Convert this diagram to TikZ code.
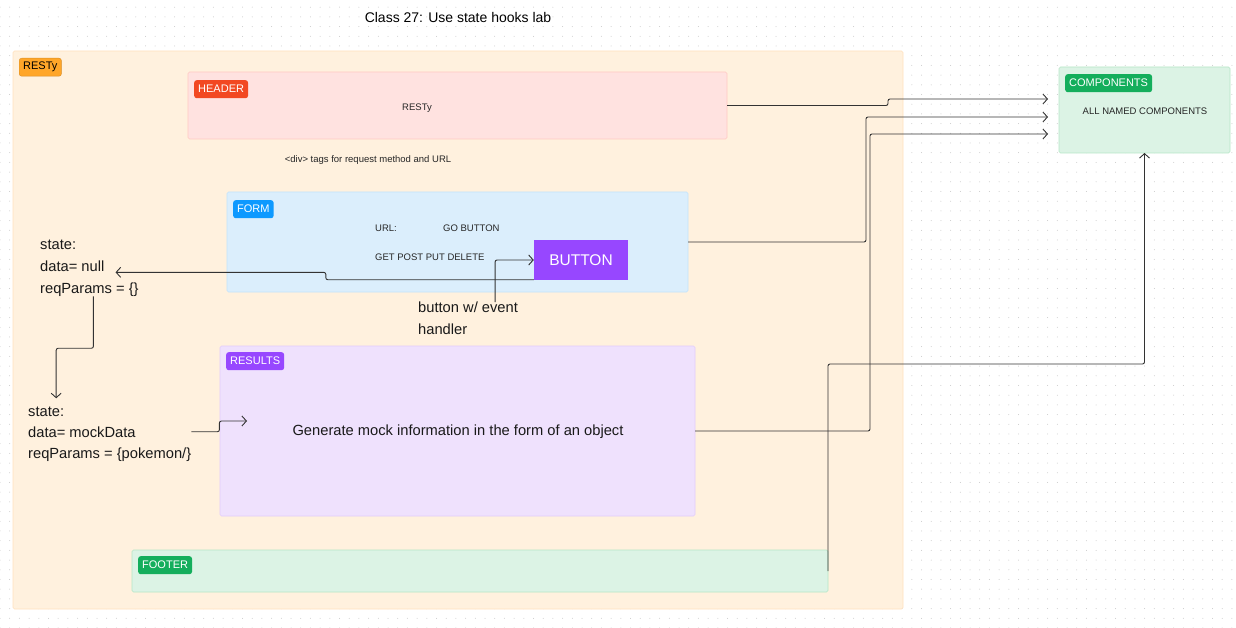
\documentclass[tikz,border=0pt]{standalone}
\usepackage{fontspec}
\setmainfont{Liberation Sans}
\usetikzlibrary{
	positioning,
	arrows.meta,
	patterns.meta
}

\definecolor{restyfill}{HTML}{FFF1DE}
\definecolor{restytag}{HTML}{FFA629}
\definecolor{headfill}{HTML}{FFE2E0}
\definecolor{headline}{HTML}{FFC9C2}
\definecolor{headtag}{HTML}{F24822}
\definecolor{formfill}{HTML}{DBEEFC}
\definecolor{formline}{HTML}{C2E3FB}
\definecolor{formtag}{HTML}{0D99FF}
\definecolor{resfill}{HTML}{EFE1FD}
\definecolor{resline}{HTML}{E2CCFB}
\definecolor{restag}{HTML}{9747FF}
\definecolor{footfill}{HTML}{DCF3E5}
\definecolor{footline}{HTML}{B5E6C6}
\definecolor{foottag}{HTML}{14AE5C}
\definecolor{wirecol}{HTML}{333333}

\begin{document}
\begin{tikzpicture}[
		x=1pt, y=-1pt,
		box/.style={rectangle, rounded corners=1.5pt, anchor=north west,
			inner sep=0pt, outer sep=0pt, line width=0.6pt},
		tag/.style={rectangle, rounded corners=2.5pt, anchor=north west,
			inner xsep=4pt, inner ysep=0pt, minimum height=18pt,
			text=white, font=\fontsize{11}{12}\selectfont},
		small/.style={inner sep=0pt, text=black!85, font=\fontsize{9.5}{11}\selectfont},
		big/.style={inner sep=0pt, text=black!90, font=\fontsize{14.7}{21.5}\selectfont},
		wire/.style={draw=wirecol, line width=0.9pt, rounded corners=2pt,
			-{Straight Barb[length=4.5pt,width=10pt]}}
	]
	\useasboundingbox (0,0) rectangle (1236,628);
	\fill[pattern={Dots[distance=9.7pt,radius=0.5pt]}, pattern color=black!22]
		(0,0) rectangle (1236,628);

	% title
	\node[inner sep=0pt, font=\fontsize{14}{16}\selectfont] (title) at (458,17) {Class 27: Use state hooks lab};

	% outer frame
	\node[box, fill=restyfill, draw=restyfill!85!orange, minimum width=890pt, minimum height=558pt]
		(frame) at (13,51) {};
	\node[tag, fill=restytag, draw=restytag!85!black, text=black] (restytag) at (19,58) {RESTy};

	% boxes
	\node[box, fill=headfill, draw=headline, minimum width=539pt, minimum height=67pt]
		(header) at (188,72) {};
	\node[box, fill=formfill, draw=formline, minimum width=461pt, minimum height=100pt]
		(form) at (227,192) {};
	\node[box, fill=resfill, draw=resline, minimum width=475pt, minimum height=170pt]
		(results) at (220,346) {};
	\node[box, fill=footfill, draw=footline, minimum width=696pt, minimum height=42pt]
		(footer) at (132,550) {};
	\node[box, fill=footfill, draw=footline, minimum width=171pt, minimum height=86pt, outer xsep=11pt]
		(comps) at (1048,67) {};

	\node[tag, fill=headtag]  (headertag)  at ([shift={(6,8)}]header.north west)  {HEADER};
	\node[tag, fill=formtag]  (formtag)    at ([shift={(6,8)}]form.north west)    {FORM};
	\node[tag, fill=restag]   (resultstag) at ([shift={(6,6)}]results.north west) {RESULTS};
	\node[tag, fill=foottag]  (footertag)  at ([shift={(6,6)}]footer.north west)  {FOOTER};
	\node[tag, fill=foottag]  (compstag)   at ([shift={(17,7)}]comps.north west)  {COMPONENTS};

	% texts
	\node[small] (headertext) at (417,108) {RESTy};
	\node[small] (divtext)    at (368,160) {<div> tags for request method and URL};
	\node[small, anchor=west] (urltext)  at (375,228) {URL:};
	\node[small, anchor=west] (gotext)   at (443,228) {GO BUTTON};
	\node[small, anchor=west] (methods)  at (375,257) {GET POST PUT DELETE};
	\node[big] (restext)   at (458,432) {Generate mock information in the form of an object};
	\node[small] (compstext) at (1145,111) {ALL NAMED COMPONENTS};

	\node[rectangle, fill=restag, minimum width=94pt, minimum height=39pt, inner sep=0pt,
		text=white, font=\fontsize{15.5}{17}\selectfont] (button) at (581,260) {BUTTON};
	\node[big, anchor=north west, align=left] (handler) at (418,302) {button w/ event\\handler};

	% state
	\node[big, anchor=base west] (s1state) at (40,250) {state:};
	\node[big, anchor=base west] (s1data)  at (40,272) {data= null};
	\node[big, anchor=base west] (s1req)   at (40,293) {reqParams = \{\}};
	\node[big, anchor=base west] (s2state) at (28,416) {state:};
	\node[big, anchor=base west] (s2data)  at (28,437) {data= mockData};
	\node[big, anchor=base west] (s2req)   at (28,458) {reqParams = \{pokemon/\}};
	\coordinate (resin) at (247,421);

	% connectors
	\draw[wire] (button.south west) -- ++(-208,0) |- ([xshift=11pt]s1data.south east);
	\draw[wire] ([xshift=27pt]handler.north) |- (button.west);
	\draw[wire] ([xshift=4pt]s1req.south) -- ++(0,52) -| ([xshift=10pt,yshift=8pt]s2state.north);
	\draw[wire] (s2data.east -| s2req.east) -- ++(28,0) |- (resin);
	\draw[wire] (header.east) -- ++(161,0) |- ([yshift=-32pt]comps.north west);
	\draw[wire] (form.east) -- ++(178,0) |- ([yshift=-50pt]comps.north west);
	\draw[wire] (results.east) -- ++(175,0) |- ([yshift=-67pt]comps.north west);
	\draw[wire] (footer.east) -- ++(0,-207) -| (comps.south);
\end{tikzpicture}
\end{document}
